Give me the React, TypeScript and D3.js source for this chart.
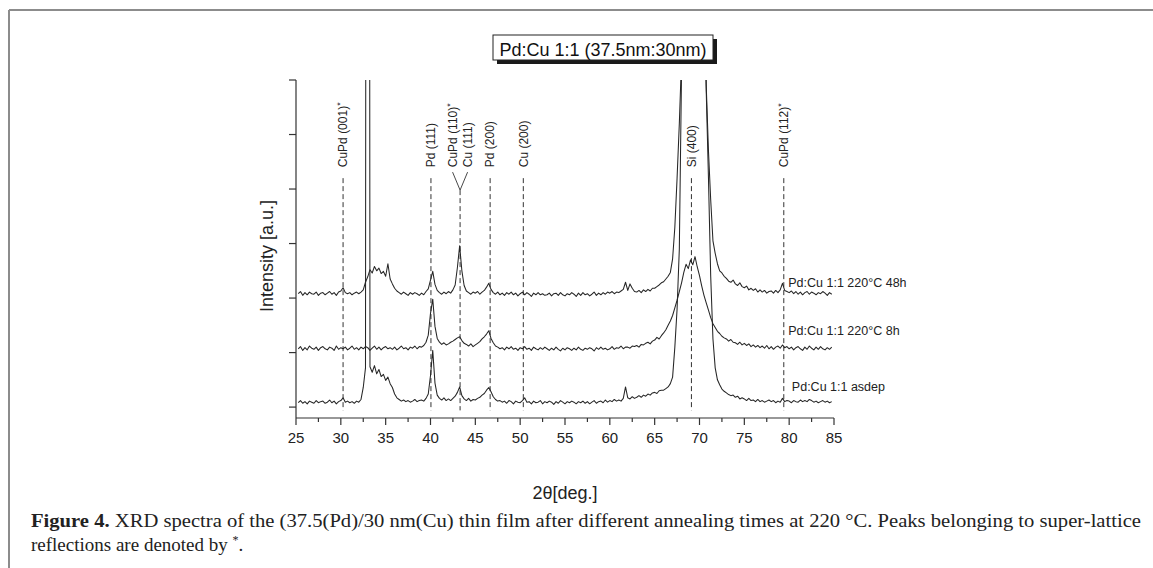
import React from 'react';
import * as d3 from 'd3';

// 2θ sampling grid (deg)
const twoTheta = [
  25.25, 25.5, 25.75,
  26, 26.25, 26.5, 26.75,
  27, 27.25, 27.5, 27.75,
  28, 28.25, 28.5, 28.75,
  29, 29.25, 29.5, 29.75,
  30, 30.25, 30.5, 30.75,
  31, 31.25, 31.5, 31.75,
  32, 32.25, 32.5, 32.75,
  33, 33.25, 33.5, 33.75,
  34, 34.25, 34.5, 34.75,
  35, 35.25, 35.5, 35.75,
  36, 36.25, 36.5, 36.75,
  37, 37.25, 37.5, 37.75,
  38, 38.25, 38.5, 38.75,
  39, 39.25, 39.5, 39.75,
  40, 40.25, 40.5, 40.75,
  41, 41.25, 41.5, 41.75,
  42, 42.25, 42.5, 42.75,
  43, 43.25, 43.5, 43.75,
  44, 44.25, 44.5, 44.75,
  45, 45.25, 45.5, 45.75,
  46, 46.25, 46.5, 46.75,
  47, 47.25, 47.5, 47.75,
  48, 48.25, 48.5, 48.75,
  49, 49.25, 49.5, 49.75,
  50, 50.25, 50.5, 50.75,
  51, 51.25, 51.5, 51.75,
  52, 52.25, 52.5, 52.75,
  53, 53.25, 53.5, 53.75,
  54, 54.25, 54.5, 54.75,
  55, 55.25, 55.5, 55.75,
  56, 56.25, 56.5, 56.75,
  57, 57.25, 57.5, 57.75,
  58, 58.25, 58.5, 58.75,
  59, 59.25, 59.5, 59.75,
  60, 60.25, 60.5, 60.75,
  61, 61.25, 61.5, 61.75,
  62, 62.25, 62.5, 62.75,
  63, 63.25, 63.5, 63.75,
  64, 64.25, 64.5, 64.75,
  65, 65.25, 65.5, 65.75,
  66, 66.25, 66.5, 66.75,
  67, 67.25, 67.5, 67.75,
  68, 68.25, 68.5, 68.75,
  69, 69.25, 69.5, 69.75,
  70, 70.25, 70.5, 70.75,
  71, 71.25, 71.5, 71.75,
  72, 72.25, 72.5, 72.75,
  73, 73.25, 73.5, 73.75,
  74, 74.25, 74.5, 74.75,
  75, 75.25, 75.5, 75.75,
  76, 76.25, 76.5, 76.75,
  77, 77.25, 77.5, 77.75,
  78, 78.25, 78.5, 78.75,
  79, 79.25, 79.5, 79.75,
  80, 80.25, 80.5, 80.75,
  81, 81.25, 81.5, 81.75,
  82, 82.25, 82.5, 82.75,
  83, 83.25, 83.5, 83.75,
  84, 84.25, 84.5, 84.75,
];

// Intensity (a.u.), Pd:Cu 1:1 asdep
const asdep = [
  8, 12, 7,
  10, 6, 11, 9,
  7, 12, 8, 10,
  11, 7, 9, 13,
  8, 11, 6, 10,
  12, 17, 9, 11,
  8, 10, 7, 11,
  9, 14, 36, 72,
  5000, 74, 64, 76,
  61, 69, 56, 60,
  49, 55, 43, 36,
  24, 17, 14, 11,
  13, 10, 12, 9,
  11, 14, 10, 12,
  13, 11, 16, 24,
  58, 104, 44, 22,
  16, 13, 17, 12,
  15, 12, 16, 20,
  27, 37, 21, 15,
  12, 16, 11, 14,
  13, 16, 18, 22,
  25, 31, 36, 28,
  19, 14, 11, 12,
  9, 11, 7, 12,
  10, 6, 11, 9,
  8, 12, 17, 9,
  10, 6, 11, 8,
  9, 12, 6, 10,
  8, 11, 9, 5,
  10, 7, 12, 9,
  6, 10, 8, 11,
  9, 6, 10, 8,
  11, 7, 10, 6,
  9, 12, 7, 10,
  11, 8, 13, 9,
  12, 10, 14, 11,
  13, 11, 16, 37,
  17, 15, 19, 16,
  18, 21, 18, 22,
  20, 24, 22, 26,
  27, 25, 30, 31,
  31, 34, 37, 43,
  55, 110, 180, 290,
  620, 1400, 2500, 3000,
  3200, 3300, 3200, 2600,
  1800, 1100, 820, 580,
  420, 240, 125, 72,
  50, 41, 33, 29,
  26, 23, 21, 22,
  18, 20, 15, 17,
  15, 12, 16, 12,
  13, 10, 14, 10,
  12, 9, 11, 13,
  10, 12, 8, 11,
  9, 16, 10, 12,
  11, 8, 12, 10,
  9, 13, 10, 12,
  10, 14, 12, 9,
  11, 8, 10, 12,
  9, 11, 8, 10,
];

// Intensity (a.u.), Pd:Cu 1:1 220°C 8h
const anneal8h = [
  107, 111, 104,
  109, 105, 112, 108,
  106, 110, 104, 109,
  111, 107, 105, 110,
  108, 104, 112, 106,
  109, 107, 110, 105,
  108, 112, 106, 109,
  105, 110, 107, 111,
  109, 104, 108, 112,
  106, 110, 105, 109,
  111, 107, 109, 106,
  110, 105, 108, 112,
  107, 109, 105, 110,
  108, 112, 107, 111,
  110, 113, 119, 132,
  172, 198, 148, 126,
  119, 115, 118, 114,
  116, 119, 121, 124,
  127, 129, 122, 117,
  115, 112, 116, 111,
  114, 117, 120, 125,
  129, 134, 140, 126,
  118, 112, 110, 107,
  109, 105, 110, 107,
  111, 106, 108, 104,
  109, 107, 111, 106,
  108, 104, 110, 107,
  105, 109, 106, 110,
  107, 104, 108, 105,
  110, 106, 103, 108,
  105, 109, 107, 104,
  108, 105, 110, 106,
  104, 108, 106, 109,
  107, 103, 109, 106,
  110, 106, 108, 105,
  107, 111, 106, 109,
  108, 112, 107, 110,
  110, 108, 112, 111,
  113, 110, 115, 114,
  117, 119, 116, 121,
  123, 128, 125, 131,
  136, 142, 150, 158,
  168, 182, 196, 212,
  228, 247, 262, 254,
  270, 261, 276, 257,
  241, 222, 205, 191,
  178, 164, 153, 146,
  139, 135, 130, 127,
  125, 121, 124, 119,
  118, 115, 119, 114,
  117, 113, 116, 111,
  114, 110, 113, 109,
  112, 108, 113, 107,
  111, 106, 110, 112,
  108, 114, 109, 111,
  107, 110, 105, 109,
  111, 107, 104, 110,
  106, 112, 108, 105,
  110, 106, 111, 107,
  105, 109, 106, 110,
];

// Intensity (a.u.), Pd:Cu 1:1 220°C 48h
const anneal48h = [
  208, 212, 205,
  210, 206, 211, 208,
  207, 211, 205, 209,
  210, 206, 209, 212,
  207, 210, 205, 211,
  213, 219, 210, 208,
  210, 206, 209, 211,
  208, 211, 215, 229,
  239, 252, 246, 258,
  250, 255, 245, 249,
  240, 263, 235, 226,
  218, 213, 210, 207,
  211, 208, 205, 210,
  207, 210, 208, 205,
  209, 206, 212, 217,
  233, 249, 225, 214,
  210, 207, 211, 208,
  212, 209, 215, 224,
  256, 296, 250, 223,
  213, 210, 207, 211,
  209, 212, 207, 211,
  214, 220, 227, 216,
  210, 207, 211, 206,
  209, 205, 210, 207,
  211, 206, 209, 204,
  208, 211, 206, 210,
  207, 203, 209, 206,
  210, 206, 208, 205,
  206, 209, 204, 208,
  209, 205, 210, 206,
  204, 208, 206, 210,
  207, 203, 209, 205,
  210, 206, 208, 204,
  207, 211, 205, 209,
  206, 210, 207, 211,
  209, 212, 208, 211,
  210, 213, 216, 229,
  214, 226, 218, 212,
  211, 214, 210, 215,
  212, 216, 213, 218,
  218, 221, 224, 228,
  230, 235, 240, 247,
  272, 330, 420, 520,
  640, 1400, 2500, 3000,
  3200, 3300, 3200, 2600,
  1800, 1100, 850, 590,
  470, 380, 305, 282,
  263, 250, 246, 240,
  236, 231, 229, 233,
  226, 223, 228, 221,
  219, 222, 215, 218,
  214, 217, 211, 215,
  211, 214, 209, 212,
  213, 209, 214, 210,
  215, 227, 214, 212,
  210, 213, 208, 212,
  207, 211, 206, 210,
  212, 207, 211, 209,
  206, 210, 208, 212,
  209, 205, 210, 207,
];

const seriesNames = ['Pd:Cu 1:1 asdep', 'Pd:Cu 1:1 220°C 8h', 'Pd:Cu 1:1 220°C 48h'];
const seriesLabelTheta = [80.3, 79.9, 79.9];
const seriesLabelLevel = [38, 141, 229];

const xTicks = [25, 30, 35, 40, 45, 50, 55, 60, 65, 70, 75, 80, 85];
const xMinorTicks = [27.5, 32.5, 37.5, 42.5, 47.5, 52.5, 57.5, 62.5, 67.5, 72.5, 77.5, 82.5];
const yTicks = [0, 100, 200, 300, 400, 500, 600];

// reflection markers
const peakNames = ['CuPd (001)', 'Pd (111)', 'CuPd (110)', 'Cu (111)', 'Pd (200)', 'Cu (200)', 'Si (400)', 'CuPd (112)'];
const peakStar = [true, false, true, false, false, false, false, true];
const peakTheta = [30.25, 40.05, 43.3, 43.3, 46.65, 50.35, 69.1, 79.4];
const peakSplit = [0, 0, -1, 1, 0, 0, 0, 0];

const titleText = 'Pd:Cu 1:1 (37.5nm:30nm)';

export default function App() {
  const W = 1153;
  const H = 568;
  const x = d3.scaleLinear().domain([25, 85]).range([296, 834]);
  const y = d3.scaleLinear().domain([-20, 600]).range([418, 80]);
  const left = x(25);
  const right = x(85);
  const bottom = y(-20);
  const top = y(600);

  const line = d3
    .line<number>()
    .x((_, i) => x(twoTheta[i]))
    .y((d) => y(d));

  const series = [asdep, anneal8h, anneal48h];
  const sans = '"Liberation Sans", Arial, Helvetica, sans-serif';
  const serif = '"Liberation Serif", "Times New Roman", serif';

  const dashTop = y(420);
  const dashBottom = y(-6);
  const labelBase = y(440);
  const vTop = y(431);
  const vApex = y(398);

  return (
    <svg
      width={W}
      height={H}
      style={{ position: 'absolute', left: 0, top: 0, background: '#fff' }}
      xmlns="http://www.w3.org/2000/svg"
    >
      <defs>
        <clipPath id="plotClip">
          <rect x={left} y={top} width={right - left} height={bottom - top} />
        </clipPath>
      </defs>
      <rect x={0} y={0} width={W} height={H} fill="#fff" />
      {/* figure frame */}
      <line x1={9} y1={10} x2={W} y2={10} stroke="#8c8c8c" strokeWidth={2} />
      <line x1={9} y1={10} x2={9} y2={H} stroke="#8c8c8c" strokeWidth={2} />

      {/* title box */}
      <rect x={497} y={39} width={220} height={25} fill="#1a1a1a" />
      <rect x={493} y={35} width={220} height={25} fill="#fff" stroke="#222" strokeWidth={1} />
      <text x={603} y={55.5} textAnchor="middle" fontFamily={sans} fontSize={18} fill="#111">
        {titleText}
      </text>

      {/* reference dashed lines */}
      {peakTheta.map((t, i) => {
        if (peakSplit[i] === 1) return null;
        const px = x(t);
        const y1 = peakSplit[i] === -1 ? vApex : dashTop;
        return (
          <line
            key={'d' + i}
            x1={px}
            x2={px}
            y1={y1}
            y2={dashBottom}
            stroke="#333"
            strokeWidth={1}
            strokeDasharray="5,3"
          />
        );
      })}
      {/* V connector for split label */}
      {peakTheta.map((t, i) =>
        peakSplit[i] !== 0 ? (
          <line
            key={'v' + i}
            x1={x(t) + peakSplit[i] * 7.5}
            y1={vTop}
            x2={x(t)}
            y2={vApex}
            stroke="#333"
            strokeWidth={0.9}
          />
        ) : null
      )}
      {peakNames.map((n, i) => {
        const px = x(peakTheta[i]) + peakSplit[i] * 7.5;
        return (
          <text
            key={'p' + i}
            transform={`translate(${px},${labelBase}) rotate(-90)`}
            dy="0.36em"
            fontFamily={sans}
            fontSize={12}
            fill="#222"
          >
            {n}
            {peakStar[i] ? (
              <tspan fontSize={9} dy="-0.45em">*</tspan>
            ) : null}
          </text>
        );
      })}

      {/* spectra */}
      <g clipPath="url(#plotClip)">
        {series.map((s, i) => (
          <path key={'s' + i} d={line(s) || ''} fill="none" stroke="#262626" strokeWidth={1.05} strokeLinejoin="round" />
        ))}
      </g>

      {/* series labels */}
      {seriesNames.map((n, i) => (
        <text
          key={'l' + i}
          x={x(seriesLabelTheta[i])}
          y={y(seriesLabelLevel[i])}
          dy="0.36em"
          fontFamily={sans}
          fontSize={12.5}
          fill="#222"
        >
          {n}
        </text>
      ))}

      {/* axes */}
      <line x1={left} x2={left} y1={top} y2={bottom} stroke="#333" strokeWidth={1.2} />
      <line x1={left} x2={right} y1={bottom} y2={bottom} stroke="#333" strokeWidth={1.2} />
      {yTicks.map((t) => (
        <line key={'yt' + t} x1={left - 7} x2={left} y1={y(t)} y2={y(t)} stroke="#333" strokeWidth={1.2} />
      ))}
      {xTicks.map((t) => (
        <g key={'xt' + t}>
          <line x1={x(t)} x2={x(t)} y1={bottom} y2={bottom + 7} stroke="#333" strokeWidth={1.2} />
          <text x={x(t)} y={bottom + 25} textAnchor="middle" fontFamily={sans} fontSize={15} fill="#222">
            {t}
          </text>
        </g>
      ))}
      {xMinorTicks.map((t) => (
        <line key={'xm' + t} x1={x(t)} x2={x(t)} y1={bottom} y2={bottom + 4} stroke="#333" strokeWidth={1.2} />
      ))}
      <text x={565} y={499} textAnchor="middle" fontFamily={sans} fontSize={18} fill="#222">
        2θ[deg.]
      </text>
      <text transform="translate(273,256) rotate(-90)" textAnchor="middle" fontFamily={sans} fontSize={18} fill="#222">
        Intensity [a.u.]
      </text>

      {/* caption */}
      <text x={31} y={527} fontFamily={serif} fontSize={19} fill="#222" textLength={1110} lengthAdjust="spacingAndGlyphs">
        <tspan fontWeight="bold">Figure 4.</tspan>
        <tspan> XRD spectra of the (37.5(Pd)/30 nm(Cu) thin film after different annealing times at 220 °C. Peaks belonging to super-lattice</tspan>
      </text>
      <text x={31} y={551} fontFamily={serif} fontSize={19} fill="#222">
        reflections are denoted by <tspan fontSize={12} dy="-7">*</tspan>
        <tspan dy="7">.</tspan>
      </text>
    </svg>
  );
}
